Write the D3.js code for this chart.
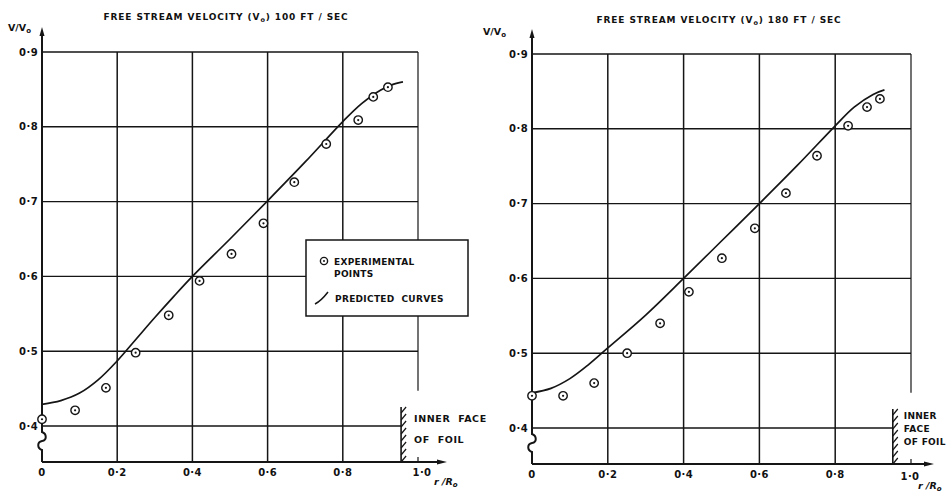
<!DOCTYPE html>
<html>
<head>
<meta charset="utf-8">
<script src="https://cdn.jsdelivr.net/npm/d3@7"></script>
<style>
  html, body { margin: 0; padding: 0; background: #fff; }
  svg { display: block; }
  text { font-family: "DejaVu Sans", sans-serif; font-weight: bold; fill: #111; }
</style>
</head>
<body>
<svg id="chart" width="949" height="492"></svg>
<script>
// ---------------- DATA ----------------
const xTicks = [0, 0.2, 0.4, 0.6, 0.8, 1.0];
const xTickLabels = ["0", "0·2", "0·4", "0·6", "0·8", "1·0"];
const yTicks = [0.4, 0.5, 0.6, 0.7, 0.8, 0.9];
const yTickLabels = ["0·4", "0·5", "0·6", "0·7", "0·8", "0·9"];

// 100 ft/sec panel
const r100Points = [0, 0.088, 0.170, 0.249, 0.337, 0.419, 0.504, 0.589, 0.671, 0.756, 0.841, 0.881, 0.920];
const v100Points = [0.409, 0.421, 0.451, 0.498, 0.548, 0.594, 0.630, 0.671, 0.726, 0.777, 0.809, 0.840, 0.853];
const r100Curve = [0, 0.05, 0.1, 0.15, 0.2, 0.25, 0.3, 0.35, 0.4, 0.5, 0.6, 0.7, 0.8, 0.85, 0.9, 0.93, 0.96];
const v100Curve = [0.429, 0.434, 0.444, 0.462, 0.487, 0.516, 0.545, 0.573, 0.600, 0.650, 0.701, 0.753, 0.807, 0.831, 0.849, 0.856, 0.860];

// 180 ft/sec panel
const r180Points = [0, 0.082, 0.164, 0.251, 0.338, 0.414, 0.501, 0.588, 0.670, 0.752, 0.834, 0.884, 0.918];
const v180Points = [0.443, 0.443, 0.460, 0.500, 0.540, 0.582, 0.627, 0.667, 0.714, 0.764, 0.804, 0.829, 0.840];
const r180Curve = [0, 0.05, 0.1, 0.15, 0.2, 0.3, 0.4, 0.5, 0.6, 0.7, 0.8, 0.85, 0.9, 0.93];
const v180Curve = [0.447, 0.453, 0.466, 0.485, 0.507, 0.551, 0.600, 0.650, 0.700, 0.751, 0.804, 0.829, 0.846, 0.852];

const titles = ["FREE STREAM VELOCITY (V", "FREE STREAM VELOCITY (V"];
const titleTails = [") 100 FT / SEC", ") 180 FT / SEC"];
const legendLabels = ["EXPERIMENTAL", "POINTS", "PREDICTED  CURVES"];
const foilLabels100 = ["INNER  FACE", "OF  FOIL"];
const foilLabels180 = ["INNER", "FACE", "OF FOIL"];
const foilR = [0.955, 0.952];

// ---------------- DRAW ----------------
const svg = d3.select("#chart");
const ink = "#151515";

const panels = [
  { x0: 42, x1: 418, yTop: 52, yBot4: 426, base: 462, arrowEnd: 447, axisTop: 27,
    pr: r100Points, pv: v100Points, cr: r100Curve, cv: v100Curve,
    title: titles[0], tail: titleTails[0], titleX: 226, titleY: 20,
    vlabX: 8, vlabY: 31, foil: foilR[0], foilLabels: foilLabels100, foilY: [422, 443], foilDX: 13, foilFS: 9.5, foilLS: 0.6,
    xlabY: 476, oneY: 476, oneDX: 4, rrX: 434, rrY: 485 },
  { x0: 532, x1: 911, yTop: 54, yBot4: 428, base: 464, arrowEnd: 934, axisTop: 29,
    pr: r180Points, pv: v180Points, cr: r180Curve, cv: v180Curve,
    title: titles[1], tail: titleTails[1], titleX: 719, titleY: 23,
    vlabX: 483, vlabY: 35, foil: foilR[1], foilLabels: foilLabels180, foilY: [419, 432, 445], foilDX: 11, foilFS: 9, foilLS: 0.3,
    xlabY: 478, oneY: 480, oneDX: -1, rrX: 918, rrY: 489 }
];

panels.forEach((p, i) => {
  const x = d3.scaleLinear().domain([0, 1]).range([p.x0, p.x1]);
  const y = d3.scaleLinear().domain([0.4, 0.9]).range([p.yBot4, p.yTop]);
  const g = svg.append("g");

  // horizontal grid lines
  yTicks.forEach(t => {
    const xe = t === 0.4 ? x(p.foil) : x(1.0);
    g.append("line").attr("x1", x(0)).attr("x2", xe).attr("y1", y(t)).attr("y2", y(t))
      .attr("stroke", ink).attr("stroke-width", 1.4);
  });
  // vertical grid lines
  xTicks.slice(1).forEach(t => {
    const yEnd = t === 1.0 ? y(0.447) : p.base;
    g.append("line").attr("x1", x(t)).attr("x2", x(t)).attr("y1", y(0.9)).attr("y2", yEnd)
      .attr("stroke", ink).attr("stroke-width", t === 1.0 ? 1.2 : 1.5);
  });
  // tick at 1.0 on base line
  g.append("line").attr("x1", x(1.0)).attr("x2", x(1.0)).attr("y1", p.base - 5).attr("y2", p.base)
    .attr("stroke", ink).attr("stroke-width", 1.2);

  // y axis with break
  const ax = x(0);
  const b0 = p.yBot4 + 6;
  const brk = `M${ax},${p.axisTop + 6} L${ax},${b0} C${ax + 5},${b0 + 2} ${ax + 5},${b0 + 8} ${ax},${b0 + 9} C${ax - 5},${b0 + 10} ${ax - 5},${b0 + 16} ${ax},${b0 + 18} L${ax},${p.base}`;
  g.append("path").attr("d", brk).attr("fill", "none").attr("stroke", ink).attr("stroke-width", 2);
  g.append("path").attr("d", `M${ax - 2.5},${p.axisTop + 9} L${ax},${p.axisTop} L${ax + 2.5},${p.axisTop + 9} Z`).attr("fill", ink);

  // x axis (baseline) with arrow
  g.append("line").attr("x1", ax).attr("x2", p.arrowEnd - 6).attr("y1", p.base).attr("y2", p.base)
    .attr("stroke", ink).attr("stroke-width", 2);
  g.append("path").attr("d", `M${p.arrowEnd - 10},${p.base - 2.5} L${p.arrowEnd},${p.base} L${p.arrowEnd - 10},${p.base + 2.5} Z`).attr("fill", ink);

  // inner face of foil (hatched)
  const fx = x(p.foil);
  const fTop = p.yBot4 - 19;
  g.append("line").attr("x1", fx).attr("x2", fx).attr("y1", fTop).attr("y2", p.base)
    .attr("stroke", ink).attr("stroke-width", 1.6);
  for (let hy = fTop + 6; hy <= p.base + 1; hy += 7) {
    g.append("line").attr("x1", fx).attr("x2", fx + 5).attr("y1", hy).attr("y2", hy - 6)
      .attr("stroke", ink).attr("stroke-width", 1.2);
  }
  p.foilLabels.forEach((s, k) => {
    g.append("text").attr("x", fx + p.foilDX).attr("y", p.foilY[k]).attr("font-size", p.foilFS)
      .attr("letter-spacing", p.foilLS).attr("xml:space", "preserve").text(s);
  });

  // y tick labels
  yTicks.forEach((t, k) => {
    g.append("text").attr("x", ax - 4).attr("y", y(t) + 3.5).attr("text-anchor", "end")
      .attr("font-size", 10).attr("letter-spacing", 0.4).text(yTickLabels[k]);
  });
  // x tick labels
  xTicks.forEach((t, k) => {
    g.append("text").attr("x", x(t) + (t === 1.0 ? p.oneDX : 0)).attr("y", t === 1.0 ? p.oneY : p.xlabY)
      .attr("text-anchor", "middle").attr("font-size", 10).attr("letter-spacing", 0.4).text(xTickLabels[k]);
  });
  // r/Ro label
  const rr = g.append("text").attr("x", p.rrX).attr("y", p.rrY).attr("font-size", 9.5).attr("font-style", "italic");
  rr.append("tspan").text("r /R");
  rr.append("tspan").attr("font-size", 7).attr("dy", 2).text("o");

  // V/Vo label
  const vl = g.append("text").attr("x", p.vlabX).attr("y", p.vlabY).attr("font-size", 9.5);
  vl.append("tspan").text("V/V");
  vl.append("tspan").attr("font-size", 7).attr("dy", 2).text("o");

  // title
  const tt = g.append("text").attr("x", p.titleX).attr("y", p.titleY).attr("text-anchor", "middle")
    .attr("font-size", 9).attr("letter-spacing", 0.9);
  tt.append("tspan").text(p.title);
  tt.append("tspan").attr("font-size", 6.5).attr("dy", 2).text("o");
  tt.append("tspan").attr("dy", -2).text(p.tail);

  // predicted curve
  const curveData = p.cr.map((r, k) => [r, p.cv[k]]);
  const line = d3.line().x(d => x(d[0])).y(d => y(d[1])).curve(d3.curveCatmullRom.alpha(0.5));
  g.append("path").datum(curveData).attr("d", line).attr("fill", "none")
    .attr("stroke", ink).attr("stroke-width", 1.7);

  // experimental points
  const pts = p.pr.map((r, k) => [r, p.pv[k]]);
  const pg = g.selectAll("g.pt").data(pts).enter().append("g")
    .attr("transform", d => `translate(${x(d[0])},${y(d[1])})`);
  pg.append("circle").attr("r", 4.2).attr("fill", "#fff").attr("stroke", ink).attr("stroke-width", 1.4);
  pg.append("circle").attr("r", 1.1).attr("fill", ink);

  // legend (left panel only)
  if (i === 0) {
    const lg = g.append("g");
    lg.append("rect").attr("x", 306).attr("y", 240).attr("width", 162).attr("height", 76)
      .attr("fill", "#fff").attr("stroke", ink).attr("stroke-width", 1.5);
    const sym = lg.append("g").attr("transform", "translate(324,261)");
    sym.append("circle").attr("r", 3.6).attr("fill", "#fff").attr("stroke", ink).attr("stroke-width", 1.4);
    sym.append("circle").attr("r", 1).attr("fill", ink);
    lg.append("text").attr("x", 334).attr("y", 265).attr("font-size", 9).attr("letter-spacing", 0.3).text(legendLabels[0]);
    lg.append("text").attr("x", 334).attr("y", 277).attr("font-size", 9).attr("letter-spacing", 0.3).text(legendLabels[1]);
    lg.append("path").attr("d", "M315,304 Q321,301 328,292").attr("fill", "none").attr("stroke", ink).attr("stroke-width", 1.5);
    lg.append("text").attr("x", 335).attr("y", 302).attr("font-size", 9).attr("letter-spacing", 0.3)
      .attr("xml:space", "preserve").text(legendLabels[2]);
  }
});
</script>
</body>
</html>
